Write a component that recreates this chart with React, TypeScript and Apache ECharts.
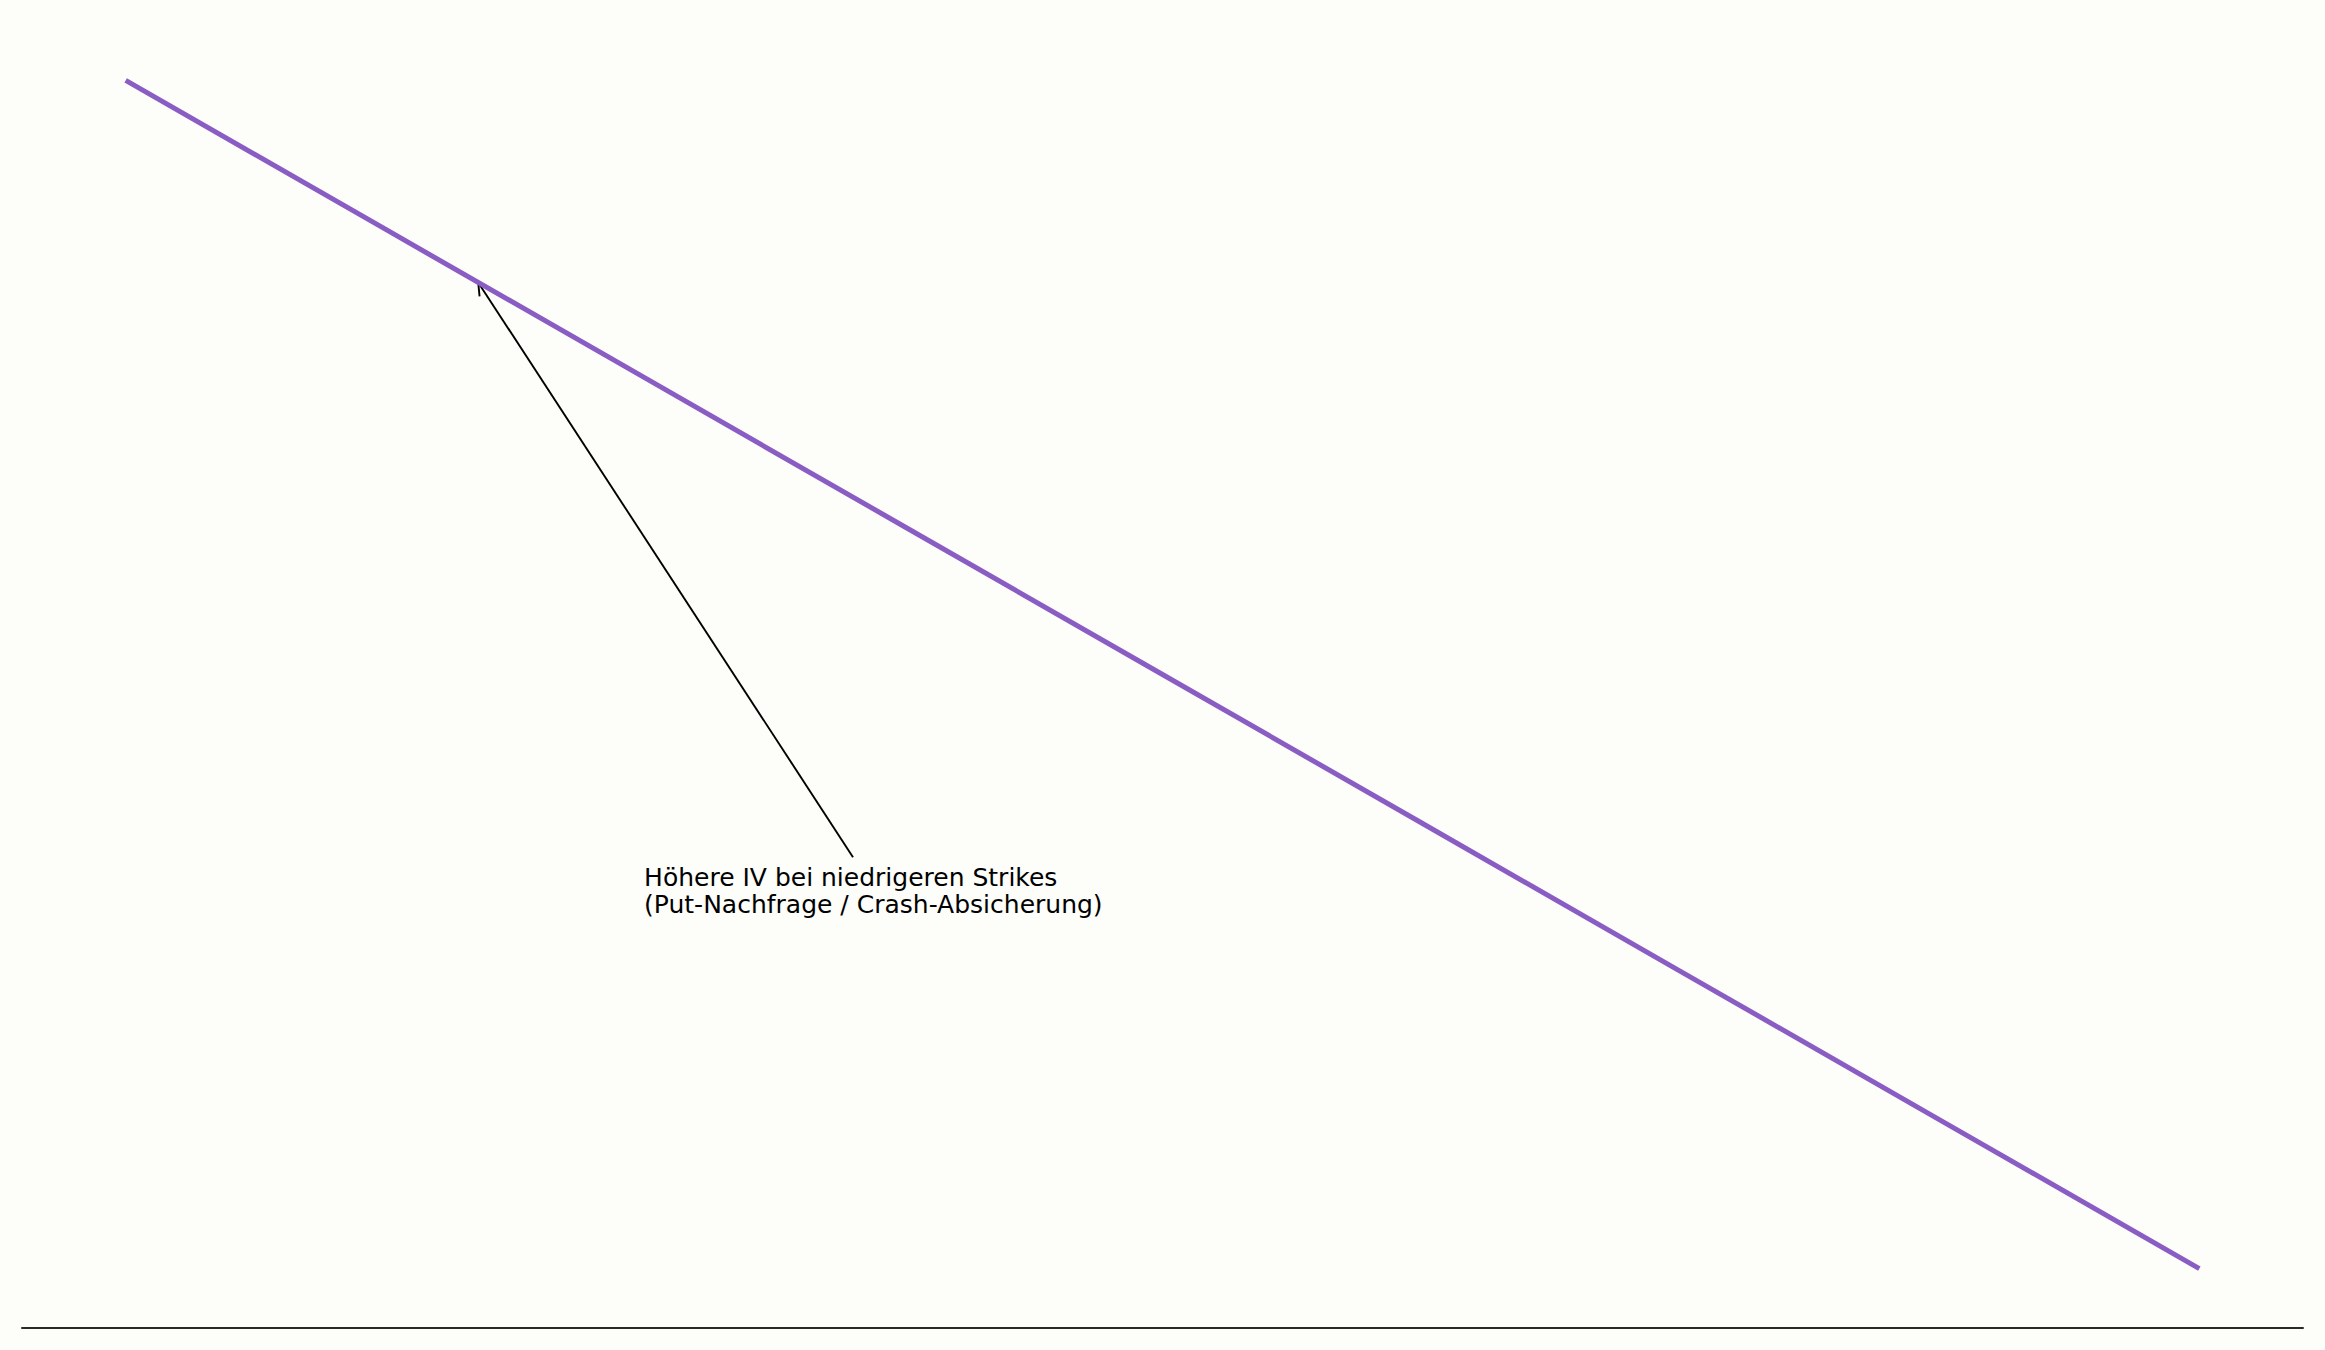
import { useEffect, useRef } from "react";
import * as echarts from "echarts";

const BG = "#fdfdf9";
const LINE = "#8a5dc4";
const SPINE = "#2a2a2a";

// Strikes and implied volatility (in %)
const strikes = [80, 85, 90, 95, 100, 105, 110, 115, 120];
const ivValues = [32.0, 30.0, 28.0, 26.0, 24.0, 22.0, 20.0, 18.0, 16.0];

// Annotation (data coordinates)
const noteText = ["Höhere IV bei niedrigeren Strikes", "(Put-Nachfrage / Crash-Absicherung)"];
const notePos: [number, number] = [90.0, 21.45];
const arrowTail: [number, number] = [94.03, 21.54];
const arrowTip: [number, number] = [86.8, 29.28];

export default function App() {
  const elRef = useRef<HTMLDivElement>(null);

  useEffect(() => {
    const el = elRef.current;
    if (!el) return;
    const chart = echarts.init(el, undefined, { renderer: "svg" });

    chart.setOption({
      animation: false,
      backgroundColor: BG,
      grid: { left: 22, right: 22, top: 21, bottom: 22 },
      xAxis: {
        type: "value",
        min: 78,
        max: 122,
        axisLine: { show: true, onZero: false, lineStyle: { color: SPINE, width: 2 } },
        axisTick: { show: false },
        axisLabel: { show: false },
        splitLine: { show: false },
      },
      yAxis: {
        type: "value",
        min: 15.2,
        max: 32.8,
        axisLine: { show: false },
        axisTick: { show: false },
        axisLabel: { show: false },
        splitLine: { show: false },
      },
      series: [
        {
          type: "line",
          data: strikes.map((s, i) => [s, ivValues[i]]),
          showSymbol: false,
          symbol: "none",
          lineStyle: { color: LINE, width: 5, cap: "butt" },
          silent: true,
        },
        {
          type: "custom",
          clip: false,
          silent: true,
          data: [[0]],
          renderItem: (_params: any, api: any) => {
            const [tx, ty] = api.coord(arrowTail);
            const [hx, hy] = api.coord(arrowTip);
            const [nx, ny] = api.coord(notePos);
            // open "->" arrow head
            const ang = Math.atan2(ty - hy, tx - hx);
            const len = 14;
            const spread = 0.48;
            const a1 = [hx + len * Math.cos(ang + spread), hy + len * Math.sin(ang + spread)];
            const a2 = [hx + len * Math.cos(ang - spread), hy + len * Math.sin(ang - spread)];
            const stroke = { stroke: "#000", lineWidth: 1.9, fill: null };
            return {
              type: "group",
              children: [
                { type: "line", shape: { x1: tx, y1: ty, x2: hx, y2: hy }, style: stroke },
                { type: "polyline", shape: { points: [a1, [hx, hy], a2] }, style: stroke },
                {
                  type: "text",
                  style: {
                    text: noteText.join("\n"),
                    x: nx,
                    y: ny,
                    fill: "#000",
                    font: '25px "DejaVu Sans"',
                    lineHeight: 27,
                    align: "left",
                    verticalAlign: "top",
                  },
                },
              ],
            };
          },
        },
      ],
    });

    return () => chart.dispose();
  }, []);

  return (
    <div
      ref={elRef}
      style={{ position: "absolute", left: 0, top: 0, width: 2325, height: 1350 }}
    />
  );
}
